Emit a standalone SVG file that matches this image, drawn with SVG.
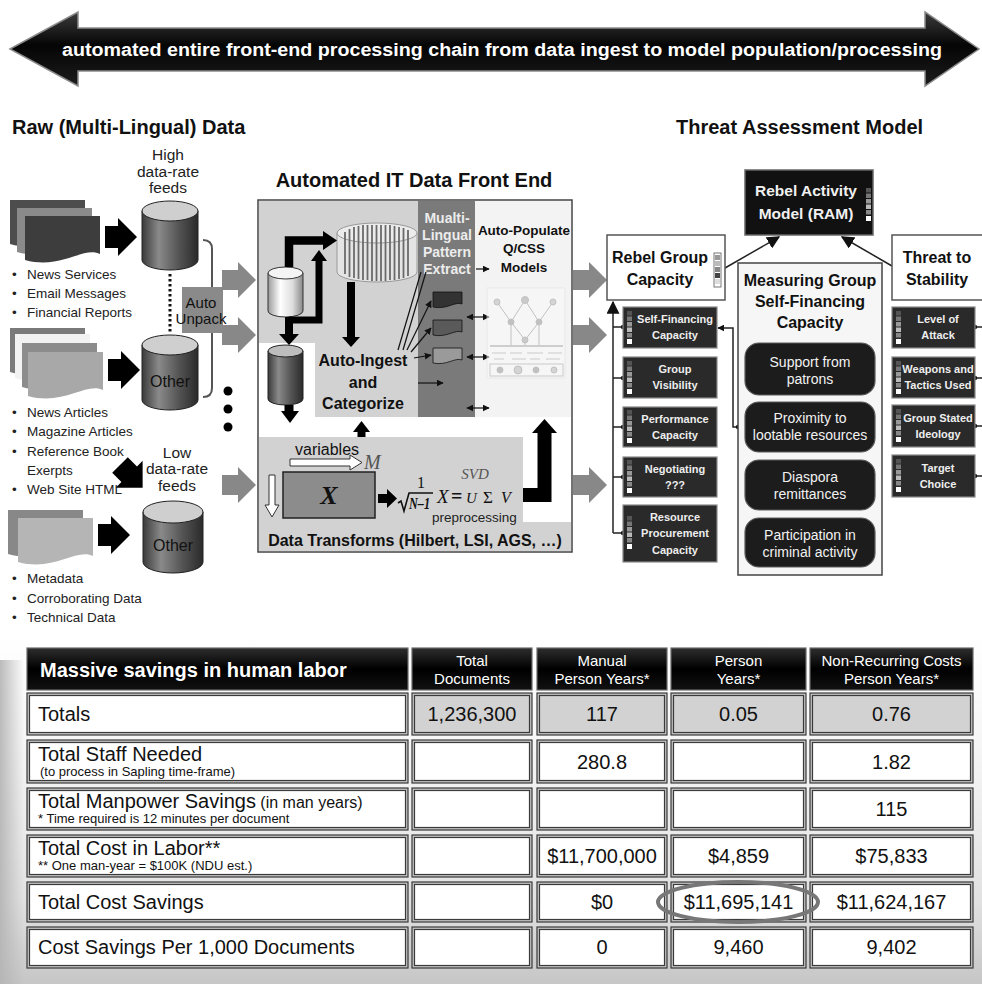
<svg xmlns="http://www.w3.org/2000/svg" xmlns:xlink="http://www.w3.org/1999/xlink" width="982" height="984" viewBox="0 0 982 984">
<defs>
<style>
text{font-family:"Liberation Sans",Arial,Helvetica,sans-serif}
.b{font-weight:bold}
.m{text-anchor:middle}
.sf{font-family:"Liberation Serif","Times New Roman",serif}
.dk{fill:#2a2a2a;stroke:#8a8a8a;stroke-width:1.2}
.dt{fill:#eeeeee;font-weight:bold;font-size:11px;text-anchor:middle}
.rb{fill:#1c1c1c;stroke:#5a5a5a;stroke-width:1.2}
.rt{fill:#f2f2f2;font-size:14px;text-anchor:middle}
.bul{font-size:13.5px;fill:#222}
.co{fill:#c4c4c4;stroke:#3a3a3a;stroke-width:1.2}
.ci{fill:#ffffff;stroke:#3a3a3a;stroke-width:1.2}
.cg{fill:#d2d2d2;stroke:#3a3a3a;stroke-width:1.2}
.hd{fill:url(#hdr);stroke:#6a6a6a;stroke-width:1.2}
.tv{font-size:20px;text-anchor:middle;fill:#111}
.tl{font-size:20px;fill:#111}
.tn{font-size:13px;fill:#111}
.th{font-size:15px;fill:#fff;text-anchor:middle}
.thin{stroke:#111;stroke-width:1.2;fill:none}
.conn{stroke:#222;stroke-width:1.5;fill:none}
</style>
<linearGradient id="banner" x1="0" y1="0" x2="0" y2="1"><stop offset="0" stop-color="#3c3c3c"/><stop offset="0.45" stop-color="#050505"/><stop offset="1" stop-color="#1c1c1c"/></linearGradient>
<linearGradient id="cyl" x1="0" y1="0" x2="1" y2="0"><stop offset="0" stop-color="#3a3a3a"/><stop offset="0.3" stop-color="#8a8a8a"/><stop offset="0.65" stop-color="#555"/><stop offset="1" stop-color="#2a2a2a"/></linearGradient>
<linearGradient id="cylW" x1="0" y1="0" x2="1" y2="0"><stop offset="0" stop-color="#9a9a9a"/><stop offset="0.35" stop-color="#ffffff"/><stop offset="0.7" stop-color="#dddddd"/><stop offset="1" stop-color="#888888"/></linearGradient>
<linearGradient id="tbg" x1="0" y1="0" x2="0" y2="1"><stop offset="0" stop-color="#ffffff"/><stop offset="0.3" stop-color="#f6f6f6"/><stop offset="0.75" stop-color="#e2e2e2"/><stop offset="1" stop-color="#c6c6c6"/></linearGradient>
<linearGradient id="ledge" x1="0" y1="0" x2="1" y2="0"><stop offset="0" stop-color="#b4b4b4" stop-opacity="0.9"/><stop offset="1" stop-color="#b4b4b4" stop-opacity="0"/></linearGradient>
<linearGradient id="hdr" x1="0" y1="0" x2="0" y2="1"><stop offset="0" stop-color="#2e2e2e"/><stop offset="0.5" stop-color="#000"/><stop offset="1" stop-color="#111"/></linearGradient>
<path id="pg" d="M0,0 H75 V38 C58,30 36,54 0,44 Z"/>
<path id="pgs" d="M0,0 H29 V12 C22,9 14,18 0,15 Z"/>
<path id="garr" d="M0,-10 H16 V-18 L34,0 L16,18 V10 H0 Z"/>
<path id="barr" d="M0,-11 H13 V-19 L32,0 L13,19 V11 H0 Z"/>
<g id="cbar">
<rect x="0" y="0" width="5" height="4.5" fill="#555"/>
<rect x="0" y="5.5" width="5" height="4.5" fill="#777"/>
<rect x="0" y="11" width="5" height="4.5" fill="#999"/>
<rect x="0" y="16.5" width="5" height="4.5" fill="#bbb"/>
<rect x="0" y="22" width="5" height="4.5" fill="#888"/>
<rect x="0" y="28" width="5" height="5" fill="#fff"/>
</g>
<g id="cbar2">
<rect x="0" y="0" width="7" height="34" fill="#fff" stroke="#777" stroke-width="1"/>
<rect x="1" y="2" width="5" height="5" fill="#999"/>
<rect x="1" y="8" width="5" height="5" fill="#bbb"/>
<rect x="1" y="14" width="5" height="5" fill="#888"/>
<rect x="1" y="20" width="5" height="5" fill="#444"/>
<rect x="1" y="26" width="5" height="5" fill="#ddd"/>
</g>
<marker id="ah" viewBox="0 0 10 10" refX="9" refY="5" markerWidth="7" markerHeight="7" markerUnits="userSpaceOnUse" orient="auto-start-reverse"><path d="M0,0 L10,5 L0,10 Z" fill="#111"/></marker>
<marker id="ahL" viewBox="0 0 10 10" refX="9" refY="5" markerWidth="13" markerHeight="13" markerUnits="userSpaceOnUse" orient="auto-start-reverse"><path d="M0,0 L10,5 L0,10 Z" fill="#111"/></marker>
</defs>

<rect width="982" height="984" fill="#fff"/>

<!-- banner -->
<g id="banner-arrow">
<polygon points="10,49 78,12 78,28 925,28 925,12 979,49 925,86 925,71 78,71 78,86" fill="url(#banner)" stroke="#8a8a8a" stroke-width="1.5"/>
<text x="502" y="56" class="b m" font-size="18" fill="#fff" textLength="880" lengthAdjust="spacingAndGlyphs">automated entire front-end processing chain from data ingest to model population/processing</text>
</g>

<!-- titles -->
<text x="12" y="134" class="b" font-size="20" fill="#111">Raw (Multi-Lingual) Data</text>
<text x="676" y="134" class="b" font-size="20" fill="#111">Threat Assessment Model</text>
<text x="414" y="187" class="b m" font-size="20" fill="#111">Automated IT Data Front End</text>

<!-- Raw data side -->
<g id="feeds-high">
<text x="168" y="160" class="m" font-size="15.5" fill="#222">High</text>
<text x="168" y="177" class="m" font-size="15.5" fill="#222">data-rate</text>
<text x="168" y="193" class="m" font-size="15.5" fill="#222">feeds</text>
</g>
<g id="stack1">
<use xlink:href="#pg" x="10" y="200" fill="#4d4d4d"/>
<use xlink:href="#pg" x="17" y="208" fill="#8a8a8a"/>
<use xlink:href="#pg" x="25" y="216" fill="#3d3d3d"/>
<use xlink:href="#barr" transform="translate(105,237)" fill="#000"/>
<text x="12" y="279" class="bul">•</text><text x="27" y="279" class="bul">News Services</text>
<text x="12" y="298" class="bul">•</text><text x="27" y="298" class="bul">Email Messages</text>
<text x="12" y="317" class="bul">•</text><text x="27" y="317" class="bul">Financial Reports</text>
</g>
<g id="cyl1">
<path d="M142,211 V260 A28,10 0 0 0 198,260 V211 Z" fill="url(#cyl)" stroke="#222" stroke-width="1"/>
<ellipse cx="170" cy="211" rx="28" ry="10" fill="#cfcfcf" stroke="#222" stroke-width="1"/>
</g>
<g id="stack2">
<use xlink:href="#pg" x="10" y="328" fill="#7a7a7a"/>
<use xlink:href="#pg" x="15" y="334" fill="#f2f2f2"/>
<use xlink:href="#pg" x="22" y="343" fill="#8c8c8c"/>
<use xlink:href="#pg" x="28" y="352" fill="#a8a8a8"/>
<use xlink:href="#barr" transform="translate(108,370)" fill="#000"/>
<text x="12" y="417" class="bul">•</text><text x="27" y="417" class="bul">News Articles</text>
<text x="12" y="436" class="bul">•</text><text x="27" y="436" class="bul">Magazine Articles</text>
<text x="12" y="456" class="bul">•</text><text x="27" y="456" class="bul">Reference Book</text>
<text x="27" y="475" class="bul">Exerpts</text>
<text x="12" y="494" class="bul">•</text><text x="27" y="494" class="bul">Web Site HTML</text>
<use xlink:href="#barr" transform="translate(120,465) rotate(45)" fill="#000"/>
</g>
<g id="cyl2">
<path d="M142,345 V400 A28,10 0 0 0 198,400 V345 Z" fill="url(#cyl)" stroke="#222" stroke-width="1"/>
<ellipse cx="170" cy="345" rx="28" ry="10" fill="#cfcfcf" stroke="#222" stroke-width="1"/>
<text x="170" y="387" class="m" font-size="16" fill="#111">Other</text>
</g>
<g id="feeds-low">
<text x="177" y="458" class="m" font-size="15.5" fill="#222">Low</text>
<text x="177" y="474" class="m" font-size="15.5" fill="#222">data-rate</text>
<text x="177" y="491" class="m" font-size="15.5" fill="#222">feeds</text>
</g>
<g id="stack3">
<use xlink:href="#pg" x="8" y="510" fill="#888"/>
<use xlink:href="#pg" x="18" y="518" fill="#b5b5b5"/>
<use xlink:href="#barr" transform="translate(98,535)" fill="#000"/>
<text x="12" y="583" class="bul">•</text><text x="27" y="583" class="bul">Metadata</text>
<text x="12" y="603" class="bul">•</text><text x="27" y="603" class="bul">Corroborating Data</text>
<text x="12" y="622" class="bul">•</text><text x="27" y="622" class="bul">Technical Data</text>
</g>
<g id="cyl3">
<path d="M143,512 V562 A30,11 0 0 0 203,562 V512 Z" fill="url(#cyl)" stroke="#222" stroke-width="1"/>
<ellipse cx="173" cy="512" rx="30" ry="11" fill="#cfcfcf" stroke="#222" stroke-width="1"/>
<text x="173" y="551" class="m" font-size="16" fill="#111">Other</text>
</g>
<g id="auto-unpack">
<line x1="170" y1="274" x2="170" y2="333" stroke="#111" stroke-width="3" stroke-dasharray="2.5 2.5"/>
<path d="M203,240 Q212,240 212,249 V388 Q212,397 203,397" fill="none" stroke="#555" stroke-width="2"/>
<rect x="182" y="287" width="41" height="46" fill="#8a8a8a"/>
<text x="201" y="308" class="m" font-size="15" fill="#111">Auto</text>
<text x="201" y="324" class="m" font-size="15" fill="#111">Unpack</text>
<circle cx="228" cy="391" r="4.5" fill="#000"/>
<circle cx="228" cy="409" r="4.5" fill="#000"/>
<circle cx="228" cy="427" r="4.5" fill="#000"/>
</g>

<!-- connectors (block arrows and lines) -->
<g id="connectors">
<use xlink:href="#garr" transform="translate(222,280)" fill="#888"/>
<use xlink:href="#garr" transform="translate(222,335)" fill="#888"/>
<use xlink:href="#garr" transform="translate(222,485)" fill="#888"/>
<use xlink:href="#garr" transform="translate(573,280)" fill="#888"/>
<use xlink:href="#garr" transform="translate(573,335)" fill="#888"/>
<use xlink:href="#garr" transform="translate(573,485)" fill="#888"/>
<line x1="725" y1="268" x2="779" y2="237" class="conn" marker-end="url(#ahL)"/>
<line x1="892" y1="266" x2="842" y2="237" class="conn" marker-end="url(#ahL)"/>
<line x1="613" y1="533" x2="613" y2="302" class="conn" marker-end="url(#ahL)"/>
<path d="M613,327 H623 M613,378 H623 M613,427 H623 M613,477 H623 M613,533 H623" class="conn"/>
<circle cx="623" cy="327" r="2.2" fill="#111"/><circle cx="623" cy="378" r="2.2" fill="#111"/><circle cx="623" cy="427" r="2.2" fill="#111"/><circle cx="623" cy="477" r="2.2" fill="#111"/><circle cx="623" cy="533" r="2.2" fill="#111"/>
<path d="M738,427 H733 V328 H718" class="conn" marker-end="url(#ah)"/>
<circle cx="738" cy="427" r="2.2" fill="#111"/>
<path d="M975,327 H982 M975,378 H982 M975,426 H982 M975,476 H982" class="conn"/>
<circle cx="975" cy="327" r="2.2" fill="#111"/><circle cx="975" cy="378" r="2.2" fill="#111"/><circle cx="975" cy="426" r="2.2" fill="#111"/><circle cx="975" cy="476" r="2.2" fill="#111"/>
</g>

<!-- Front end panel -->
<g id="front-end">
<rect x="258" y="200" width="314" height="352" fill="#fff" stroke="#444" stroke-width="1.5"/>
<path d="M259,201 H418 V417 H315 V343 H259 Z" fill="#d2d2d2"/>
<rect x="418" y="201" width="57" height="216" fill="#7a7a7a"/>
<rect x="475" y="201" width="96" height="216" fill="#f3f3f3"/>
<path d="M259,437 H523 V522 H571 V551 H259 Z" fill="#d2d2d2"/>
<!-- big cylinder -->
<path d="M337,233 V272 A40,10 0 0 0 417,272 V233 Z" fill="#e4e4e4" stroke="#999" stroke-width="1"/>
<ellipse cx="377" cy="233" rx="40" ry="10" fill="#ececec" stroke="#999" stroke-width="1"/>
<g stroke="#6a6a6a" stroke-width="1.8">
<line x1="345" y1="232" x2="345" y2="274"/><line x1="349.5" y1="229" x2="349.5" y2="277"/><line x1="354" y1="227" x2="354" y2="278"/><line x1="358.5" y1="226" x2="358.5" y2="279"/><line x1="363" y1="225" x2="363" y2="280"/><line x1="367.5" y1="225" x2="367.5" y2="280"/><line x1="372" y1="225" x2="372" y2="281"/><line x1="376.5" y1="225" x2="376.5" y2="281"/><line x1="381" y1="225" x2="381" y2="281"/><line x1="385.5" y1="225" x2="385.5" y2="281"/><line x1="390" y1="225" x2="390" y2="280"/><line x1="394.5" y1="226" x2="394.5" y2="280"/><line x1="399" y1="227" x2="399" y2="279"/><line x1="403.5" y1="228" x2="403.5" y2="278"/><line x1="408" y1="230" x2="408" y2="276"/>
</g>
<!-- small cylinders -->
<path d="M268,273 V311 A17.5,6 0 0 0 303,311 V273 Z" fill="url(#cylW)" stroke="#333" stroke-width="1"/>
<ellipse cx="285.5" cy="273" rx="17.5" ry="6" fill="#f4f4f4" stroke="#333" stroke-width="1"/>
<path d="M268,351 V399 A17.5,6 0 0 0 303,399 V351 Z" fill="url(#cyl)" stroke="#222" stroke-width="1"/>
<ellipse cx="285.5" cy="351" rx="17.5" ry="6" fill="#bdbdbd" stroke="#222" stroke-width="1"/>
<!-- thick arrows -->
<path d="M289,267 V240.5 H324" fill="none" stroke="#000" stroke-width="8.5"/>
<polygon points="323,231 337,240.5 323,250" fill="#000"/>
<path d="M289,317 V336" fill="none" stroke="#000" stroke-width="8"/>
<polygon points="279,334 299,334 289,345" fill="#000"/>
<path d="M289,320 H319 V259" fill="none" stroke="#000" stroke-width="7"/>
<polygon points="311,261 327,261 319,250" fill="#000"/>
<path d="M351,282 V338" fill="none" stroke="#000" stroke-width="8"/>
<polygon points="342,337 360,337 351,347" fill="#000"/>
<path d="M289,405 V413" fill="none" stroke="#000" stroke-width="9"/>
<polygon points="281,411 299,411 290,423" fill="#000"/>
<path d="M361.5,437 V430" fill="none" stroke="#000" stroke-width="8"/>
<polygon points="353,432 370,432 361.5,421" fill="#000"/>
<text x="363" y="366" class="b m" font-size="16" fill="#111">Auto-Ingest</text>
<text x="363" y="388" class="b m" font-size="16" fill="#111">and</text>
<text x="363" y="409" class="b m" font-size="16" fill="#111">Categorize</text>
<!-- multi-lingual column -->
<text x="447" y="223" class="b m" font-size="14" fill="#ececec">Mualti-</text>
<text x="447" y="240" class="b m" font-size="14" fill="#ececec">Lingual</text>
<text x="447" y="257" class="b m" font-size="14" fill="#ececec">Pattern</text>
<text x="447" y="274" class="b m" font-size="14" fill="#ececec">Extract</text>
<use xlink:href="#pgs" x="433" y="292" fill="#333" stroke="#111" stroke-width="0.8"/>
<use xlink:href="#pgs" x="433" y="320" fill="#5a5a5a" stroke="#111" stroke-width="0.8"/>
<use xlink:href="#pgs" x="433" y="348" fill="#9a9a9a" stroke="#111" stroke-width="0.8"/>
<line x1="398" y1="350" x2="421" y2="272" class="thin"/>
<line x1="403" y1="350" x2="426" y2="272" class="thin"/>
<line x1="407" y1="350" x2="431" y2="301" class="thin" marker-end="url(#ah)"/>
<line x1="411" y1="352" x2="431" y2="328" class="thin" marker-end="url(#ah)"/>
<line x1="414" y1="358" x2="431" y2="355" class="thin" marker-end="url(#ah)"/>
<line x1="476" y1="269" x2="489" y2="269" class="thin" marker-end="url(#ah)"/>
<line x1="467" y1="317" x2="489" y2="317" class="thin" marker-start="url(#ah)" marker-end="url(#ah)"/>
<line x1="467" y1="357" x2="489" y2="357" class="thin" marker-start="url(#ah)" marker-end="url(#ah)"/>
<line x1="418" y1="383" x2="443" y2="383" class="thin" marker-end="url(#ah)"/>
<line x1="467" y1="408" x2="489" y2="408" class="thin" marker-start="url(#ah)" marker-end="url(#ah)"/>
<!-- auto-populate -->
<text x="524" y="235" class="b m" font-size="13.5" fill="#111">Auto-Populate</text>
<text x="524" y="253" class="b m" font-size="13.5" fill="#111">Q/CSS</text>
<text x="524" y="272" class="b m" font-size="13.5" fill="#111">Models</text>
<g opacity="0.55" stroke="#999" stroke-width="1" fill="none">
<rect x="487" y="288" width="78" height="90" fill="#fafafa" stroke="#e0e0e0"/>
<polyline points="497,302 511,322 525,300 539,322 553,302"/>
<polyline points="511,322 525,340 539,322"/>
<line x1="511" y1="322" x2="511" y2="345"/><line x1="539" y1="322" x2="539" y2="345"/><line x1="525" y1="340" x2="525" y2="345"/>
<line x1="490" y1="346" x2="563" y2="346" stroke-width="1.5"/>
<path d="M492,353 h14 M510,353 h12 M527,353 h16 M548,353 h14 M494,359 h10 M512,359 h14 M530,359 h10 M546,359 h14" stroke="#aaa"/>
<rect x="490" y="364" width="73" height="12" stroke="#aaa"/>
<circle cx="500" cy="370" r="3" fill="#999"/><circle cx="518" cy="370" r="4" fill="#bbb"/><circle cx="536" cy="370" r="3" fill="#999"/><circle cx="554" cy="370" r="3" fill="#bbb"/>
<circle cx="497" cy="302" r="3" fill="#bbb"/><circle cx="525" cy="300" r="3.5" fill="#aaa"/><circle cx="553" cy="302" r="3" fill="#bbb"/><circle cx="511" cy="322" r="3" fill="#999"/><circle cx="539" cy="322" r="3" fill="#999"/><circle cx="525" cy="340" r="3" fill="#aaa"/>
</g>
<!-- data transforms -->
<text x="295" y="455" font-size="16" fill="#111">variables</text>
<polygon points="290,459 350,459 350,455 362,462.5 350,470 350,466 290,466" fill="#fff" stroke="#333" stroke-width="1"/>
<text x="364" y="469" class="sf" font-style="italic" font-size="20" fill="#555">M</text>
<polygon points="269,475 275,475 275,505 279,505 272,517 265,505 269,505" fill="#fff" stroke="#333" stroke-width="1"/>
<rect x="283" y="472" width="92" height="46" fill="#8c8c8c" stroke="#222" stroke-width="1.5"/>
<text x="329" y="504" class="sf m" font-style="italic" font-weight="bold" font-size="26" fill="#111">X</text>
<polygon points="378,494 387,494 387,489 397,498.5 387,508 387,503 378,503" fill="#000"/>
<text x="421" y="488" class="sf m" font-size="16" fill="#111">1</text>
<path d="M398,503 L401,501 L404,511 L409,493 L433,493" fill="none" stroke="#111" stroke-width="1.6"/>
<text x="409" y="509" class="sf" font-style="italic" font-weight="bold" font-size="16" fill="#111" textLength="21" lengthAdjust="spacingAndGlyphs">N–1</text>
<text x="437" y="503" class="sf" font-style="italic" font-size="19" fill="#111">X</text>
<text x="451" y="503" class="sf" font-weight="bold" font-size="20" fill="#111">=</text>
<text x="466" y="503" class="sf" font-style="italic" font-size="15" fill="#111">U</text>
<text x="483" y="503" class="sf" font-size="17" fill="#111">Σ</text>
<text x="501" y="503" class="sf" font-style="italic" font-size="16" fill="#111">V</text>
<text x="475" y="479" class="sf m" font-style="italic" font-size="15" fill="#555">SVD</text>
<text x="432" y="522" font-size="13.5" fill="#222">preprocessing</text>
<path d="M523,495 H544.5 V431" fill="none" stroke="#000" stroke-width="14"/>
<polygon points="532,433 557,433 544.5,419" fill="#000"/>
<text x="415" y="546" class="b m" font-size="16" fill="#111">Data Transforms (Hilbert, LSI, AGS, …)</text>
</g>

<!-- Threat assessment model -->
<g id="ram">
<rect x="745" y="170" width="128" height="65" fill="#111" stroke="#666" stroke-width="1.5"/>
<text x="806" y="196" class="b m" font-size="15.5" fill="#f0f0f0">Rebel Activity</text>
<text x="806" y="219" class="b m" font-size="15.5" fill="#f0f0f0">Model (RAM)</text>
<use xlink:href="#cbar" x="866" y="188"/>
</g>
<g id="rebel-group-capacity">
<rect x="607" y="235" width="118" height="65" fill="#fff" stroke="#555" stroke-width="1.5"/>
<text x="660" y="263" class="b m" font-size="16" fill="#111">Rebel Group</text>
<text x="660" y="285" class="b m" font-size="16" fill="#111">Capacity</text>
<use xlink:href="#cbar2" x="714" y="253"/>
</g>
<g id="threat-to-stability">
<rect x="892" y="235" width="95" height="65" fill="#fff" stroke="#555" stroke-width="1.5"/>
<text x="937" y="263" class="b m" font-size="16" fill="#111">Threat to</text>
<text x="937" y="285" class="b m" font-size="16" fill="#111">Stability</text>
</g>
<g id="measuring">
<rect x="738" y="263" width="144" height="312" fill="#f6f6f6" stroke="#444" stroke-width="1.5"/>
<text x="810" y="286" class="b m" font-size="16" fill="#111">Measuring Group</text>
<text x="810" y="307" class="b m" font-size="16" fill="#111">Self-Financing</text>
<text x="810" y="328" class="b m" font-size="16" fill="#111">Capacity</text>
</g>
<g id="support-patrons"><rect x="745" y="343" width="130" height="52" rx="14" class="rb"/><text x="810" y="367" class="rt">Support from</text><text x="810" y="384" class="rt">patrons</text></g>
<g id="proximity"><rect x="745" y="402" width="130" height="50" rx="14" class="rb"/><text x="810" y="423" class="rt">Proximity to</text><text x="810" y="440" class="rt">lootable resources</text></g>
<g id="diaspora"><rect x="745" y="460" width="130" height="50" rx="14" class="rb"/><text x="810" y="482" class="rt">Diaspora</text><text x="810" y="499" class="rt">remittances</text></g>
<g id="criminal"><rect x="745" y="518" width="130" height="49" rx="14" class="rb"/><text x="810" y="540" class="rt">Participation in</text><text x="810" y="557" class="rt">criminal activity</text></g>

<g id="self-financing"><rect x="623" y="307" width="94" height="41" class="dk"/><use xlink:href="#cbar" x="627" y="311"/><text x="675" y="323" class="dt">Self-Financing</text><text x="675" y="339" class="dt">Capacity</text></g>
<g id="group-visibility"><rect x="623" y="357" width="94" height="41" class="dk"/><use xlink:href="#cbar" x="627" y="361"/><text x="675" y="373" class="dt">Group</text><text x="675" y="389" class="dt">Visibility</text></g>
<g id="performance"><rect x="623" y="407" width="94" height="40" class="dk"/><use xlink:href="#cbar" x="627" y="410"/><text x="675" y="423" class="dt">Performance</text><text x="675" y="439" class="dt">Capacity</text></g>
<g id="negotiating"><rect x="623" y="457" width="94" height="40" class="dk"/><use xlink:href="#cbar" x="627" y="460"/><text x="675" y="473" class="dt">Negotiating</text><text x="675" y="489" class="dt">???</text></g>
<g id="resource"><rect x="623" y="505" width="94" height="57" class="dk"/><use xlink:href="#cbar" x="627" y="516"/><text x="675" y="521" class="dt">Resource</text><text x="675" y="537" class="dt">Procurement</text><text x="675" y="554" class="dt">Capacity</text></g>

<g id="level-attack"><rect x="892" y="307" width="83" height="41" class="dk"/><use xlink:href="#cbar" x="896" y="311"/><text x="938" y="323" class="dt">Level of</text><text x="938" y="339" class="dt">Attack</text></g>
<g id="weapons"><rect x="892" y="357" width="83" height="41" class="dk"/><use xlink:href="#cbar" x="896" y="361"/><text x="938" y="373" class="dt" font-size="10.5">Weapons and</text><text x="938" y="389" class="dt" font-size="10.5">Tactics Used</text></g>
<g id="ideology"><rect x="892" y="405" width="83" height="42" class="dk"/><use xlink:href="#cbar" x="896" y="409"/><text x="938" y="422" class="dt" font-size="10.5">Group Stated</text><text x="938" y="438" class="dt">Ideology</text></g>
<g id="target"><rect x="892" y="455" width="83" height="42" class="dk"/><use xlink:href="#cbar" x="896" y="459"/><text x="938" y="472" class="dt">Target</text><text x="938" y="488" class="dt">Choice</text></g>

<!-- Table -->
<g id="table">
<rect x="0" y="638" width="982" height="346" fill="url(#tbg)"/>
<rect x="0" y="660" width="24" height="324" fill="url(#ledge)"/>
<rect x="27" y="648" width="381" height="42" class="hd"/>
<rect x="412" y="648" width="120" height="42" class="hd"/>
<rect x="537" y="648" width="130" height="42" class="hd"/>
<rect x="671" y="648" width="135" height="42" class="hd"/>
<rect x="810" y="648" width="163" height="42" class="hd"/>
<text x="40" y="677" class="b" font-size="20" fill="#fff">Massive savings in human labor</text>
<text x="472" y="666" class="th">Total</text><text x="472" y="684" class="th">Documents</text>
<text x="602" y="666" class="th">Manual</text><text x="602" y="684" class="th">Person Years*</text>
<text x="738.5" y="666" class="th">Person</text><text x="738.5" y="684" class="th">Years*</text>
<text x="891.5" y="666" class="th">Non-Recurring Costs</text><text x="891.5" y="684" class="th">Person Years*</text>

<!-- row 1 -->
<rect x="27" y="693" width="381" height="42" class="co"/><rect x="29.5" y="695.5" width="376" height="37" class="ci"/>
<rect x="412" y="693" width="120" height="42" class="co"/><rect x="414.5" y="695.5" width="115" height="37" class="cg"/>
<rect x="537" y="693" width="130" height="42" class="co"/><rect x="539.5" y="695.5" width="125" height="37" class="cg"/>
<rect x="671" y="693" width="135" height="42" class="co"/><rect x="673.5" y="695.5" width="130" height="37" class="cg"/>
<rect x="810" y="693" width="163" height="42" class="co"/><rect x="812.5" y="695.5" width="158" height="37" class="cg"/>
<text x="38" y="721" class="tl">Totals</text>
<text x="472" y="721" class="tv">1,236,300</text><text x="602" y="721" class="tv">117</text><text x="738.5" y="721" class="tv">0.05</text><text x="891.5" y="721" class="tv">0.76</text>

<!-- row 2 -->
<rect x="27" y="740" width="381" height="43" class="co"/><rect x="29.5" y="742.5" width="376" height="38" class="ci"/>
<rect x="412" y="740" width="120" height="43" class="co"/><rect x="414.5" y="742.5" width="115" height="38" class="ci"/>
<rect x="537" y="740" width="130" height="43" class="co"/><rect x="539.5" y="742.5" width="125" height="38" class="ci"/>
<rect x="671" y="740" width="135" height="43" class="co"/><rect x="673.5" y="742.5" width="130" height="38" class="ci"/>
<rect x="810" y="740" width="163" height="43" class="co"/><rect x="812.5" y="742.5" width="158" height="38" class="ci"/>
<text x="38" y="761" class="tl">Total Staff Needed</text>
<text x="40" y="776" class="tn">(to process in Sapling time-frame)</text>
<text x="602" y="769" class="tv">280.8</text><text x="891.5" y="769" class="tv">1.82</text>

<!-- row 3 -->
<rect x="27" y="788" width="381" height="42" class="co"/><rect x="29.5" y="790.5" width="376" height="37" class="ci"/>
<rect x="412" y="788" width="120" height="42" class="co"/><rect x="414.5" y="790.5" width="115" height="37" class="ci"/>
<rect x="537" y="788" width="130" height="42" class="co"/><rect x="539.5" y="790.5" width="125" height="37" class="ci"/>
<rect x="671" y="788" width="135" height="42" class="co"/><rect x="673.5" y="790.5" width="130" height="37" class="ci"/>
<rect x="810" y="788" width="163" height="42" class="co"/><rect x="812.5" y="790.5" width="158" height="37" class="ci"/>
<text x="38" y="808" class="tl">Total Manpower Savings<tspan font-size="16"> (in man years)</tspan></text>
<text x="38" y="823" class="tn" font-size="12.5">* Time required is 12 minutes per document</text>
<text x="891.5" y="816" class="tv">115</text>

<!-- row 4 -->
<rect x="27" y="835" width="381" height="42" class="co"/><rect x="29.5" y="837.5" width="376" height="37" class="ci"/>
<rect x="412" y="835" width="120" height="42" class="co"/><rect x="414.5" y="837.5" width="115" height="37" class="ci"/>
<rect x="537" y="835" width="130" height="42" class="co"/><rect x="539.5" y="837.5" width="125" height="37" class="ci"/>
<rect x="671" y="835" width="135" height="42" class="co"/><rect x="673.5" y="837.5" width="130" height="37" class="ci"/>
<rect x="810" y="835" width="163" height="42" class="co"/><rect x="812.5" y="837.5" width="158" height="37" class="ci"/>
<text x="38" y="855" class="tl">Total Cost in Labor**</text>
<text x="38" y="870" class="tn" font-size="12.5">** One man-year = $100K (NDU est.)</text>
<text x="602" y="863" class="tv">$11,700,000</text><text x="738.5" y="863" class="tv">$4,859</text><text x="891.5" y="863" class="tv">$75,833</text>

<!-- row 5 -->
<rect x="27" y="882" width="381" height="40" class="co"/><rect x="29.5" y="884.5" width="376" height="35" class="ci"/>
<rect x="412" y="882" width="120" height="40" class="co"/><rect x="414.5" y="884.5" width="115" height="35" class="ci"/>
<rect x="537" y="882" width="130" height="40" class="co"/><rect x="539.5" y="884.5" width="125" height="35" class="ci"/>
<rect x="671" y="882" width="135" height="40" class="co"/><rect x="673.5" y="884.5" width="130" height="35" class="ci"/>
<rect x="810" y="882" width="163" height="40" class="co"/><rect x="812.5" y="884.5" width="158" height="35" class="ci"/>
<text x="38" y="909" class="tl">Total Cost Savings</text>
<text x="602" y="909" class="tv">$0</text><text x="738.5" y="909" class="tv">$11,695,141</text><text x="891.5" y="909" class="tv">$11,624,167</text>
<ellipse cx="738" cy="902" rx="80" ry="20" fill="none" stroke="#777" stroke-width="4"/>

<!-- row 6 -->
<rect x="27" y="927" width="381" height="41" class="co"/><rect x="29.5" y="929.5" width="376" height="36" class="ci"/>
<rect x="412" y="927" width="120" height="41" class="co"/><rect x="414.5" y="929.5" width="115" height="36" class="ci"/>
<rect x="537" y="927" width="130" height="41" class="co"/><rect x="539.5" y="929.5" width="125" height="36" class="ci"/>
<rect x="671" y="927" width="135" height="41" class="co"/><rect x="673.5" y="929.5" width="130" height="36" class="ci"/>
<rect x="810" y="927" width="163" height="41" class="co"/><rect x="812.5" y="929.5" width="158" height="36" class="ci"/>
<text x="38" y="954" class="tl">Cost Savings Per 1,000 Documents</text>
<text x="602" y="954" class="tv">0</text><text x="738.5" y="954" class="tv">9,460</text><text x="891.5" y="954" class="tv">9,402</text>
</g>
</svg>
